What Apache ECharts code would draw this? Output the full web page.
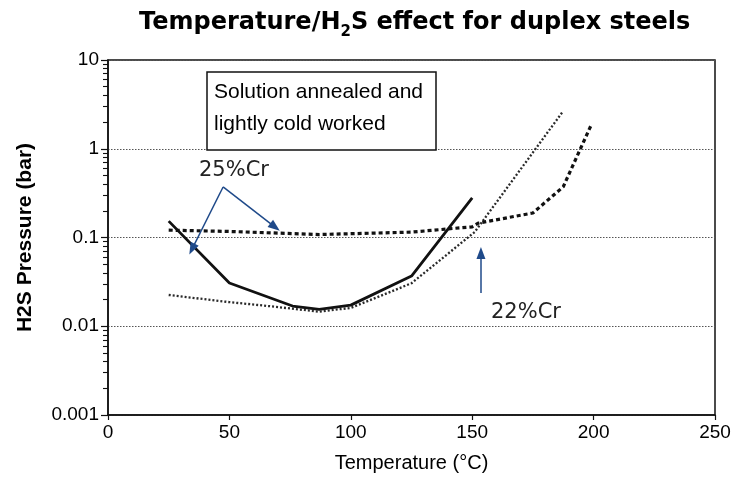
<!DOCTYPE html>
<html>
<head>
<meta charset="utf-8">
<script src="https://cdn.jsdelivr.net/npm/echarts@6/dist/echarts.min.js"></script>
<style>
  html, body { margin: 0; padding: 0; background: #fff; }
  #chart { width: 736px; height: 482px; }
</style>
</head>
<body>
<div id="chart"></div>
<script>
// Critical H2S partial pressure (bar) versus temperature (°C) for duplex steels
const solidTemps = [25, 50, 76, 87, 100, 125, 150];
const solidPressure = [0.153, 0.0307, 0.0169, 0.0155, 0.0173, 0.0368, 0.279];

const dottedTemps = [25, 50, 66, 87, 100, 125, 151, 187];
const dottedPressure = [0.0225, 0.0187, 0.0169, 0.0146, 0.0161, 0.0305, 0.115, 2.55];

const dashedTemps = [25, 50, 87, 125, 150, 152.5, 175, 187.5, 199];
const dashedPressure = [0.121, 0.117, 0.108, 0.115, 0.132, 0.145, 0.189, 0.373, 1.85];

// Axis ranges and tick labels
const xTickLabels = [0, 50, 100, 150, 200, 250];
const yTickLabels = [0.001, 0.01, 0.1, 1, 10];
const minorMultipliers = [2, 3, 4, 5, 6, 7, 8, 9];
const decadeExponents = [-3, -2, -1, 0];

// Annotation arrows (temperature, pressure)
const arrow25From = [47.4, 0.371];
const arrow25To = [[34.6, 0.074], [68.8, 0.131]];
const arrow22From = [153.6, 0.0237];
const arrow22To = [153.6, 0.0669];

const pairs = (xs, ys) => xs.map((x, i) => [x, ys[i]]);

// minor tick positions in exponent space for the overlaid linear axis
const minorTickExponents = [];
decadeExponents.forEach(e => minorMultipliers.forEach(m => {
  minorTickExponents.push(Math.log10(m * Math.pow(10, e)));
}));

const INK = '#111';
const ARROW = '#1f4a8a';
const sans = 'Liberation Sans';

const chart = echarts.init(document.getElementById('chart'));

chart.setOption({
  animation: false,
  backgroundColor: '#fff',
  title: {
    text: '{a|Temperature/H}{s|2}{a|S effect for duplex steels}',
    left: 134,
    top: 3,
    textStyle: {
      rich: {
        a: { fontFamily: 'DejaVu Sans', fontWeight: 'bold', fontSize: 24, color: '#000', lineHeight: 30 },
        s: { fontFamily: 'DejaVu Sans', fontWeight: 'bold', fontSize: 15, color: '#000', lineHeight: 15, padding: [18, 0, 0, 0] }
      }
    }
  },
  grid: {
    left: 108, right: 21, top: 60, bottom: 67,
    show: true, borderColor: INK, borderWidth: 1.5, backgroundColor: 'transparent'
  },
  xAxis: {
    type: 'value',
    min: xTickLabels[0],
    max: xTickLabels[xTickLabels.length - 1],
    interval: 50,
    name: 'Temperature (°C)',
    nameLocation: 'middle',
    nameGap: 38,
    nameTextStyle: { fontFamily: sans, fontSize: 20, color: '#000' },
    axisLine: { show: true, onZero: false, lineStyle: { color: INK, width: 1.5 } },
    axisTick: { show: true, inside: false, length: 5, lineStyle: { color: INK, width: 1.2 } },
    axisLabel: { fontFamily: sans, fontSize: 19, color: '#000', margin: 8 },
    splitLine: { show: false }
  },
  yAxis: [
    {
      type: 'log',
      logBase: 10,
      min: yTickLabels[0],
      max: yTickLabels[yTickLabels.length - 1],
      position: 'left',
      name: 'H2S Pressure (bar)',
      nameLocation: 'middle',
      nameRotate: 90,
      nameGap: 72,
      nameTextStyle: { fontFamily: sans, fontWeight: 'bold', fontSize: 21, color: '#000' },
      axisLine: { show: true, onZero: false, lineStyle: { color: INK, width: 1.5 } },
      axisTick: { show: true, inside: false, length: 7, lineStyle: { color: INK, width: 1.2 } },
      axisLabel: {
        fontFamily: sans, fontSize: 19, color: '#000', margin: 9,
        formatter: v => String(+v.toPrecision(3))
      },
      splitLine: { show: true, lineStyle: { color: '#555', width: 1, type: [1.5, 1.5] } }
    },
    {
      // linear exponent axis carrying the minor log ticks
      type: 'value',
      min: -3,
      max: 1,
      position: 'left',
      offset: 0,
      axisLine: { show: false, onZero: false },
      axisLabel: { show: false },
      splitLine: { show: false },
      axisTick: {
        show: true, inside: false, length: 5,
        customValues: minorTickExponents,
        lineStyle: { color: INK, width: 1.1 }
      }
    }
  ],
  series: [
    {
      name: 'solid',
      type: 'line',
      data: pairs(solidTemps, solidPressure),
      showSymbol: false,
      lineStyle: { color: INK, width: 2.8, type: 'solid' },
      z: 3
    },
    {
      name: 'dotted',
      type: 'line',
      data: pairs(dottedTemps, dottedPressure),
      showSymbol: false,
      lineStyle: { color: '#2a2a2a', width: 2.3, type: [2, 2] },
      z: 3,
      markLine: {
        silent: true,
        symbol: ['none', 'triangle'],
        symbolSize: [9, 12],
        label: { show: false },
        lineStyle: { color: ARROW, width: 1.5, type: 'solid' },
        data: [
          [{ coord: arrow22From }, { coord: arrow22To }]
        ]
      }
    },
    {
      name: 'dashed',
      type: 'line',
      data: pairs(dashedTemps, dashedPressure),
      showSymbol: false,
      lineStyle: { color: INK, width: 3.2, type: [4, 3] },
      z: 3,
      markLine: {
        silent: true,
        symbol: ['none', 'triangle'],
        symbolSize: [9, 12],
        label: { show: false },
        lineStyle: { color: ARROW, width: 1.5, type: 'solid' },
        data: arrow25To.map(tip => [{ coord: arrow25From }, { coord: tip }])
      }
    }
  ],
  graphic: [
    {
      type: 'rect',
      shape: { x: 207, y: 72, width: 229, height: 78 },
      style: { fill: '#fff', stroke: INK, lineWidth: 1.5 },
      z: 10
    },
    {
      type: 'text',
      x: 214, y: 92,
      style: { text: 'Solution annealed and', fontFamily: sans, fontSize: 21, fill: '#000', verticalAlign: 'middle' },
      z: 11
    },
    {
      type: 'text',
      x: 214, y: 124,
      style: { text: 'lightly cold worked', fontFamily: sans, fontSize: 21, fill: '#000', verticalAlign: 'middle' },
      z: 11
    },
    {
      type: 'text',
      x: 199, y: 171,
      style: { text: '25%Cr', fontFamily: 'DejaVu Sans', fontSize: 21, fill: '#222', verticalAlign: 'middle' },
      z: 11
    },
    {
      type: 'text',
      x: 491, y: 313,
      style: { text: '22%Cr', fontFamily: 'DejaVu Sans', fontSize: 21, fill: '#222', verticalAlign: 'middle' },
      z: 11
    }
  ]
});
</script>
</body>
</html>
